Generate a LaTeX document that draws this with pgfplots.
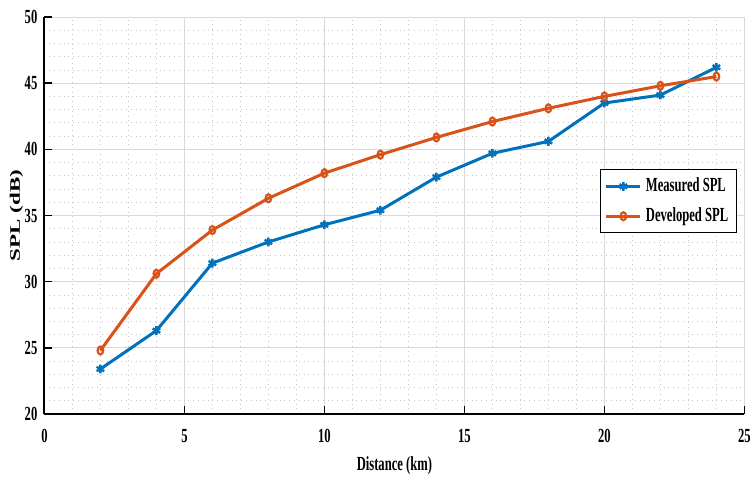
\documentclass[border=0pt]{standalone}
\usepackage{fontspec}
\setmainfont{Liberation Serif}[FakeStretch=0.63]
\newfontfamily\ylabfont{Liberation Serif}
\usepackage{pgfplots}
\pgfplotsset{compat=1.18}
\definecolor{mblue}{RGB}{0,114,189}
\definecolor{morange}{RGB}{217,83,25}
\begin{document}
\begin{tikzpicture}
\useasboundingbox (0,0) rectangle (375pt,239pt);
\begin{axis}[
  at={(22.2pt,32pt)}, anchor=south west,
  scale only axis, width=350pt, height=198.5pt,
  xmin=0, xmax=25, ymin=20, ymax=50,
  xtick={0,5,...,25}, ytick={20,25,...,50},
  minor x tick num=4, minor y tick num=4,
  axis x line=bottom, axis y line=left,
  axis line style={-, line width=0.9pt, black},
  tick align=inside,
  major tick length=4pt,
  minor tick length=0pt,
  tick style={line width=0.7pt, black},
  grid=both,
  major grid style={line width=0.5pt, gray!30},
  minor grid style={line width=0.4pt, gray!45, dotted},
  /pgf/number format/assume math mode=true,
  ticklabel style={font=\fontsize{10}{12}\selectfont\bfseries},
  xticklabel style={yshift=-4pt},
  xlabel={Distance (km)}, ylabel={SPL (dB)},
  xlabel style={font=\fontsize{10}{12}\selectfont\bfseries, at={(axis description cs:0.5,0)}, anchor=center, yshift=-26pt},
  ylabel style={font=\ylabfont\fontsize{11.5}{13}\selectfont\bfseries, at={(axis description cs:-0.04,0.5)}, anchor=center, yscale=0.63},
  legend style={at={(0.989,0.616)}, anchor=north east, draw=black, line width=0.5pt,
    font=\fontsize{10}{12}\selectfont\bfseries, row sep=2.5pt, inner sep=2pt,
    legend cell align=left},
]
\addplot[color=mblue, line width=1.5pt, mark=asterisk, mark size=2.2pt, mark options={line width=1.2pt}]
coordinates {(2,23.4) (4,26.3) (6,31.4) (8,33.0) (10,34.3) (12,35.4) (14,37.9) (16,39.7) (18,40.6) (20,43.5) (22,44.1) (24,46.2)};
\addlegendentry{Measured SPL}
\addplot[color=morange, line width=1.5pt, mark=o, mark size=2pt, mark options={line width=1.1pt, xscale=0.7}]
coordinates {(2,24.8) (4,30.6) (6,33.9) (8,36.3) (10,38.2) (12,39.6) (14,40.9) (16,42.1) (18,43.1) (20,44.0) (22,44.8) (24,45.5)};
\addlegendentry{Developed SPL}
\end{axis}
\end{tikzpicture}
\end{document}
